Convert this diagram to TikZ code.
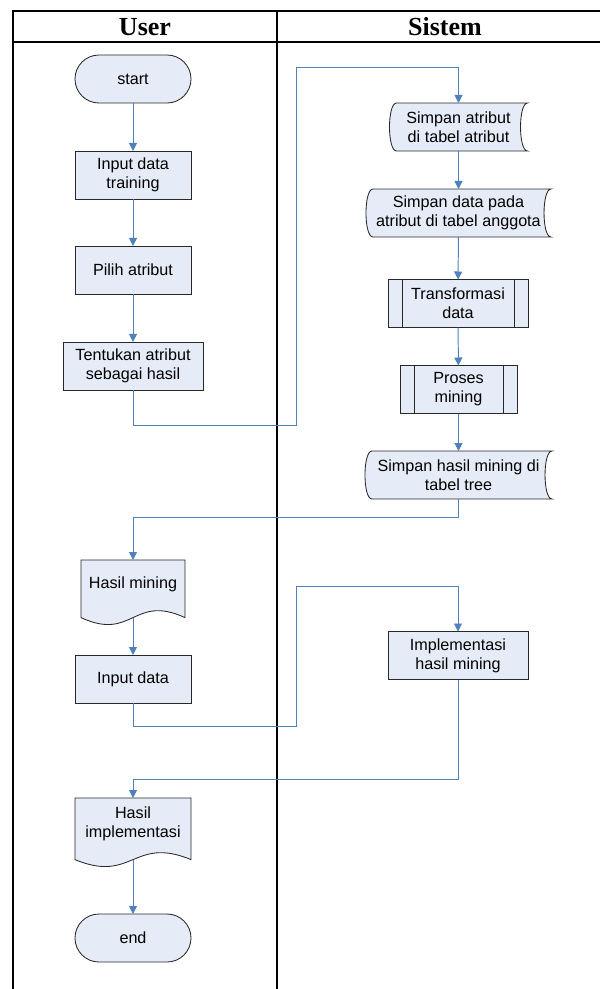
\documentclass[tikz,border=0pt]{standalone}
\usepackage{fontspec}
\setmainfont{Liberation Sans}
\newfontfamily\headfont{Liberation Serif}
\usetikzlibrary{
  arrows.meta,
  backgrounds
}
\definecolor{boxfill}{RGB}{230,236,247}
\definecolor{flowblue}{RGB}{79,129,189}
\definecolor{boxline}{RGB}{40,40,40}
\tikzset{
  every node/.style={font=\fontsize{11.5}{13.5}\selectfont, align=center, inner sep=2pt, outer sep=0pt},
  frame/.style={line width=1.4pt, black},
  head/.style={font=\headfont\bfseries\fontsize{18.5}{22}\selectfont},
  box/.style={draw=boxline, fill=boxfill, line width=0.6pt},
  proc/.style={box, minimum width=2.9cm, minimum height=1.2cm},
  term/.style={proc, rounded corners=0.6cm},
  predef/.style={proc, path picture={
      \draw[boxline, line width=0.6pt]
        ([xshift=0.35cm]path picture bounding box.north west) -- ([xshift=0.35cm]path picture bounding box.south west)
        ([xshift=-0.35cm]path picture bounding box.north east) -- ([xshift=-0.35cm]path picture bounding box.south east);}},
  stored/.style={minimum height=1.2cm},
  docu/.style={minimum width=2.9cm, minimum height=1.2cm},
  flow/.style={flowblue, line width=0.7pt, -{Triangle[width=0.2cm,length=0.2cm]}}
}
% outline of a stored data node
\newcommand{\storedbg}[1]{%
  \draw[box] ([xshift=0.175cm]#1.north west) -- (#1.north east)
    .. controls ([xshift=-0.233cm]#1.north east) and ([xshift=-0.233cm]#1.south east) .. (#1.south east)
    -- ([xshift=0.175cm]#1.south west)
    .. controls ([xshift=-0.058cm]#1.south west) and ([xshift=-0.058cm]#1.north west) .. ([xshift=0.175cm]#1.north west) -- cycle;}
% outline of a document node, with its wavy bottom
\newcommand{\docbg}[1]{%
  \coordinate (#1-b) at ([yshift=-0.24cm]#1.south);
  \draw[box] (#1.north west) -- (#1.north east) -- ([yshift=-0.24cm]#1.south east)
    .. controls ([yshift=0.6cm]#1-b) and ([yshift=-0.6cm]#1-b) .. ([yshift=-0.24cm]#1.south west) -- cycle;}

\begin{document}
\begin{tikzpicture}[x=0.025cm, y=-0.025cm]
  \useasboundingbox (0,0) rectangle (600,989);
  % swimlanes
  \draw[frame] (13,989) -- (13,11) -- (600,11);
  \draw[frame] (13,42) -- (600,42);
  \draw[frame] (277,11) -- (277,989);
  \node[head] (user) at (145,27) {User};
  \node[head] (sistem) at (445,27) {Sistem};

  % user lane
  \node[term] (start) at (133,79) {start};
  \node[proc] (in1) at (133,175) {Input data\\training};
  \node[proc] (pilih) at (133,270) {Pilih atribut};
  \node[proc, minimum width=3.5cm] (tentukan) at (133,366) {Tentukan atribut\\sebagai hasil};
  \node[docu, minimum width=2.6cm] (hm) at (133,584) {Hasil mining};
  \node[proc] (inp2) at (133,679) {Input data};
  \node[docu, minimum height=1.3cm] (hi) at (133,824) {Hasil\\implementasi};
  \node[term] (fin) at (133,938) {end};

  % sistem lane
  \node[stored, minimum width=3.45cm] (s1) at (458.5,127) {Simpan atribut\\di tabel atribut};
  \node[stored, minimum width=4.625cm] (s2) at (458.5,213) {Simpan data pada\\atribut di tabel anggota};
  \node[predef, minimum width=3.5cm] (tr) at (458,303.5) {Transformasi\\data};
  \node[predef, minimum width=2.925cm] (pm) at (458.5,389.5) {Proses\\mining};
  \node[stored, minimum width=4.675cm] (s3) at (458.5,475) {Simpan hasil mining di\\tabel tree};
  \node[proc, minimum width=3.5cm] (impl) at (458,655.5) {Implementasi\\hasil mining};

  \begin{scope}[on background layer]
    \storedbg{s1}
    \storedbg{s2}
    \storedbg{s3}
    \docbg{hm}
    \docbg{hi}
  \end{scope}

  \coordinate (k1) at (296,425);
  \coordinate (k2) at (296,67);
  \coordinate (k3) at (133,517);
  \coordinate (k4) at (296,726);
  \coordinate (k5) at (296,586);
  \coordinate (k6) at (133,779);

  \draw[flow] (start) -- (in1);
  \draw[flow] (in1) -- (pilih);
  \draw[flow] (pilih) -- (tentukan);
  \draw[flow] (tentukan) |- (k1) -- (k2) -| (s1);
  \draw[flow] (s1) -- (s2);
  \draw[flow] (s2) -- (tr);
  \draw[flow] (tr) -- (pm);
  \draw[flow] (pm) -- (s3);
  \draw[flow] (s3) |- (k3) -- (hm);
  \draw[flow] (hm-b) -- (inp2);
  \draw[flow] (inp2) |- (k4) -- (k5) -| (impl);
  \draw[flow] (impl) |- (k6) -- (hi);
  \draw[flow] (hi-b) -- (fin);
\end{tikzpicture}
\end{document}
